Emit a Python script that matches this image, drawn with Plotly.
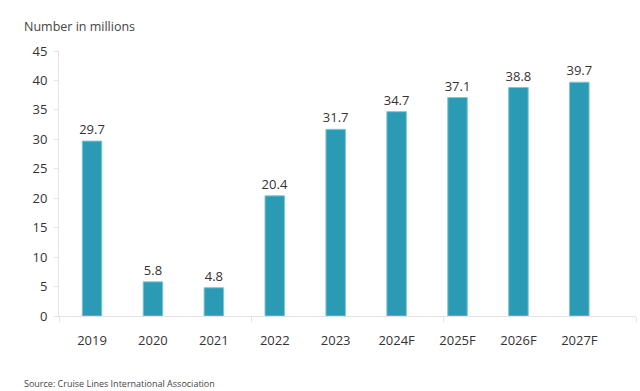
import plotly.graph_objects as go

categories = ["2019", "2020", "2021", "2022", "2023", "2024F", "2025F", "2026F", "2027F"]
values = [29.7, 5.8, 4.8, 20.4, 31.7, 34.7, 37.1, 38.8, 39.7]
value_labels = ["29.7", "5.8", "4.8", "20.4", "31.7", "34.7", "37.1", "38.8", "39.7"]
y_ticks = [0, 5, 10, 15, 20, 25, 30, 35, 40, 45]

FONT = "Open Sans"
TXT = "#333333"
GRID = "#e3e3e3"

fig = go.Figure()
fig.add_trace(go.Bar(
    x=list(range(len(categories))), y=values,
    text=value_labels, textposition="outside",
    textfont=dict(family=FONT, size=13, color=TXT),
    marker=dict(color="#2b9bb5", line=dict(color="#7cc6d6", width=1)),
    width=0.32, cliponaxis=False, hoverinfo="skip",
))
# decorative baseline tick marks
fig.add_trace(go.Scatter(x=[0, 1, 2, 3], y=[0, 0, 0, 0], xaxis="x2", yaxis="y",
                         mode="markers", marker=dict(size=0.1, opacity=0), hoverinfo="skip",
                         showlegend=False))

fig.update_layout(
    width=640, height=391,
    margin=dict(l=59, r=4, t=51, b=75),
    paper_bgcolor="white", plot_bgcolor="white",
    showlegend=False,
    uniformtext=dict(minsize=13, mode="show"),
    font=dict(family=FONT, size=13, color=TXT),
    xaxis=dict(
        range=[-0.542, 8.93], automargin=False,
        tickmode="array", tickvals=list(range(len(categories))), ticktext=categories,
        showgrid=False, zeroline=False, showline=True, linecolor=GRID, linewidth=1,
        ticks="", tickfont=dict(family=FONT, size=13, color=TXT), ticklabelstandoff=12,
    ),
    xaxis2=dict(
        overlaying="x", range=[0, 3], domain=[0, 1], automargin=False,
        tickmode="array", tickvals=[0, 1, 2, 3], showticklabels=False,
        ticks="outside", ticklen=5, tickcolor=GRID, showgrid=False, zeroline=False,
        showline=False, anchor="y", side="bottom",
    ),
    yaxis=dict(
        range=[0, 45], tickmode="array", tickvals=y_ticks, automargin=False,
        showgrid=False, zeroline=False, showline=True, linecolor=GRID, linewidth=1,
        ticks="outside", ticklen=4, tickcolor=GRID,
        tickfont=dict(family=FONT, size=13, color=TXT), ticklabelstandoff=4,
    ),
    annotations=[
        dict(text="Number in millions", xref="paper", yref="paper", x=-0.064, y=1,
             yshift=14, xanchor="left", yanchor="bottom", showarrow=False,
             font=dict(family=FONT, size=12.5, color="#444444")),
        dict(text="Source: Cruise Lines International Association", xref="paper", yref="paper",
             x=-0.064, y=0, yshift=-76, xanchor="left", yanchor="bottom", showarrow=False,
             font=dict(family=FONT, size=9, color="#444444")),
    ],
)

fig.write_html("out.html", config={"displayModeBar": False},
               post_script="document.body.style.margin='0';document.body.style.overflow='hidden';")
